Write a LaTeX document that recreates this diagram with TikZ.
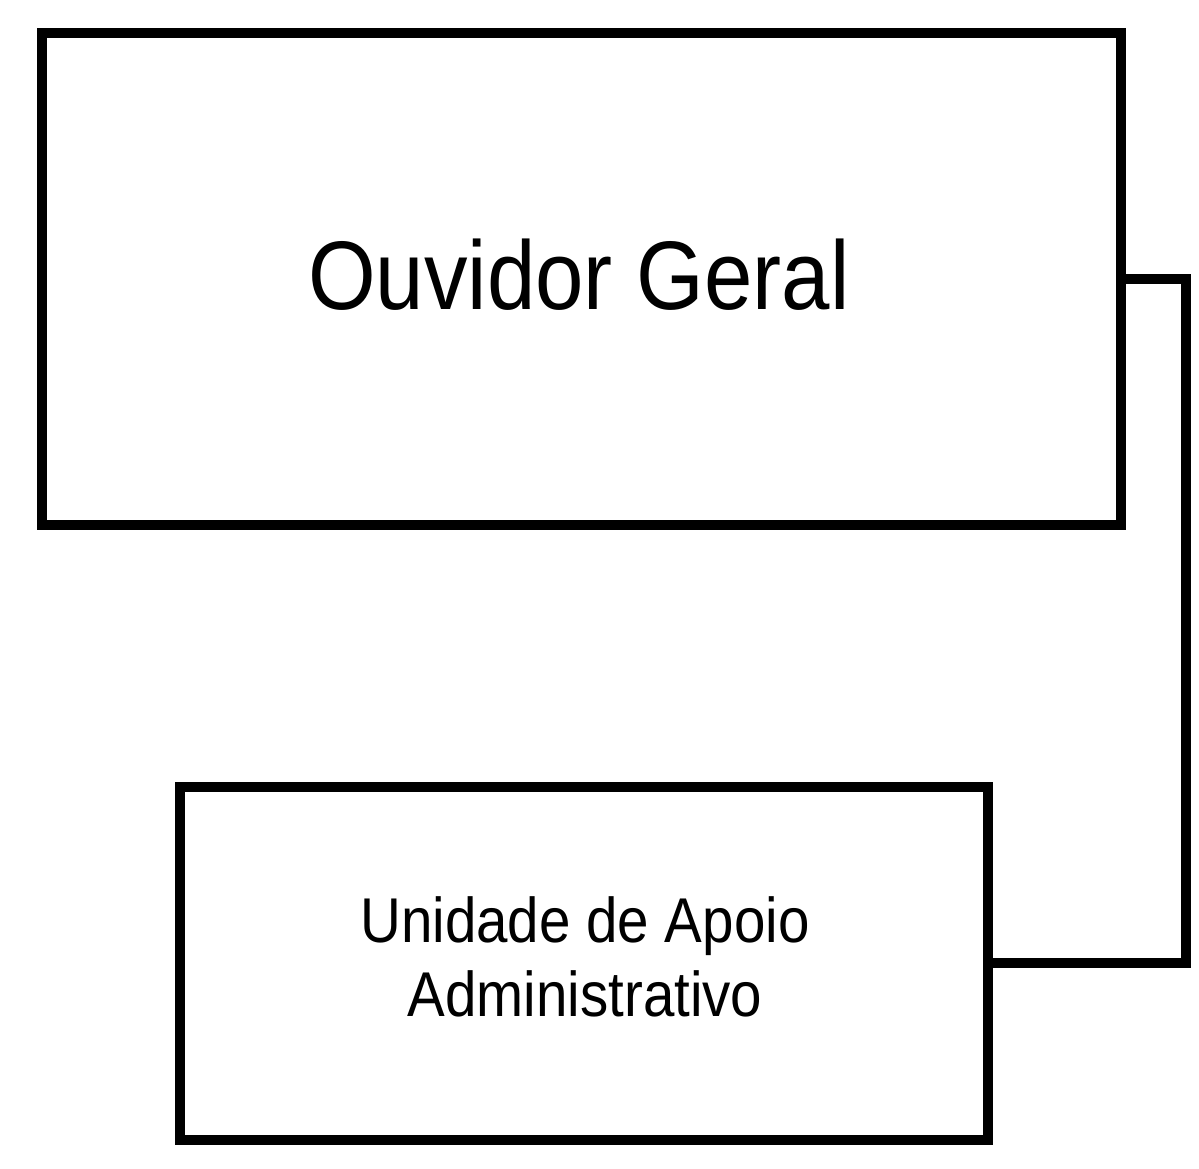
\documentclass[tikz,border=0pt]{standalone}
\usepackage{fontspec}
\setmainfont{Liberation Sans}
\begin{document}
\begin{tikzpicture}[x=1pt,y=1pt,
  box/.style={draw=black,line width=10pt,rectangle,inner sep=0pt},
  conn/.style={draw=black,line width=10pt},
  lbl/.style={inner sep=0pt,align=center,yscale=1.12,transform shape}]
\useasboundingbox (0,0) rectangle (1199,1169);
\node[box,minimum width=1079pt,minimum height=492pt] (top) at (581.5,890) {};
\node[lbl,font=\fontsize{87}{100}\selectfont] (toptext) at (579,894) {Ouvidor Geral};
\node[box,minimum width=808pt,minimum height=353pt] (bot) at (584,205.5) {};
\node[lbl,font=\fontsize{56.5}{66}\selectfont] (bottext) at (585,212) {Unidade de Apoio\\Administrativo};
\draw[conn] (top.east) -- ++(60,0) coordinate (corner) |- (bot.east);
\end{tikzpicture}
\end{document}
